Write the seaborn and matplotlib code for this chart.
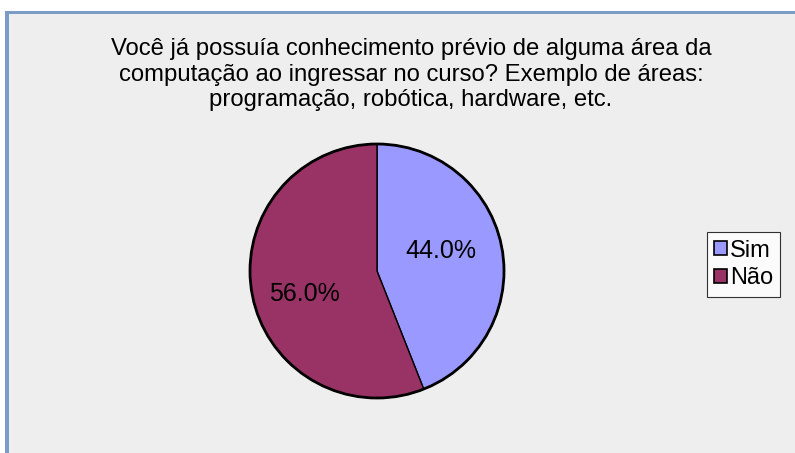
import numpy as np
import matplotlib.pyplot as plt
import matplotlib.patches as mpatches
import seaborn as sns

# Survey answers
categories = ["Sim", "Não"]
percentages = [44.0, 56.0]
colors = ["#9999ff", "#993366"]
title = ("Você já possuía conhecimento prévio de alguma área da\n"
         "computação ao ingressar no curso? Exemplo de áreas:\n"
         "programação, robótica, hardware, etc.")

sns.set_style("white")
plt.rcParams['font.family'] = ['Liberation Sans', 'DejaVu Sans']
plt.rcParams['text.color'] = 'black'

W, H = 795, 453
fig = plt.figure(figsize=(W / 100, H / 100), dpi=100)
fig.patch.set_facecolor("white")

# chart area background and frame
fig.patches.append(mpatches.Rectangle((7 / W, 0), 1, 1 - 13 / H, transform=fig.transFigure,
                                      facecolor="#eeeeee", edgecolor="none", zorder=-2))
fig.patches.append(mpatches.Rectangle((5 / W, 1 - 14 / H), 1, 2.5 / H, transform=fig.transFigure,
                                      facecolor="#7a9cc6", edgecolor="none", zorder=-1))
fig.patches.append(mpatches.Rectangle((5 / W, 0), 3.5 / W, 1 - 12 / H, transform=fig.transFigure,
                                      facecolor="#7a9cc6", edgecolor="none", zorder=-1))

# pie axes
cx, cy, r = 377, 271, 127
m = 1.03
ax = fig.add_axes([(cx - r * m) / W, (H - cy - r * m) / H, 2 * r * m / W, 2 * r * m / H])
ax.set_zorder(2)
wedges, texts, autotexts = ax.pie(
    percentages,
    colors=colors,
    startangle=90,
    counterclock=False,
    autopct="%.1f%%",
    pctdistance=0.55,
    wedgeprops=dict(edgecolor="black", linewidth=1.0),
    textprops=dict(fontsize=18, color="black"),
)
ax.add_patch(mpatches.Circle((0, 0), 1, facecolor="none", edgecolor="black", linewidth=2))
# nudge labels to where the original places them
for t, (dist, ang) in zip(autotexts, [(0.53, 17.0), (0.60, 197.5)]):
    a = np.deg2rad(ang)
    t.set_position((dist * np.cos(a), dist * np.sin(a)))
ax.set_xlim(-m, m)
ax.set_ylim(-m, m)
ax.set_aspect("equal")
ax.axis("off")

fig.text(411 / W, 1 - 74.5 / H, title, ha="center", va="center", fontsize=17.2,
         linespacing=1.2, color="black")

handles = [mpatches.Patch(facecolor=c, edgecolor="black", linewidth=1.2) for c in colors]
leg = fig.legend(handles, categories, loc="center left", bbox_to_anchor=(707 / W, 1 - 264.5 / H),
                 fontsize=17, frameon=True, fancybox=False, edgecolor="black",
                 handlelength=0.55, handleheight=0.55, handletextpad=0.12,
                 borderpad=0.3, labelspacing=0.25, borderaxespad=0)
leg.get_frame().set_linewidth(0.8)
leg.get_frame().set_facecolor("white")
for t in leg.get_texts():
    t.set_color("black")

fig.savefig("out.png", dpi=100)
